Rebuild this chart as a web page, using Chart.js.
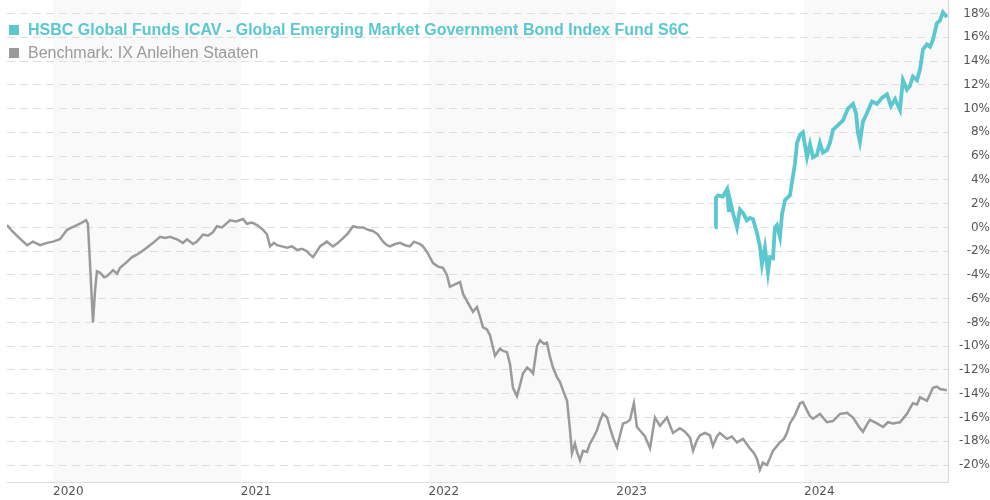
<!DOCTYPE html>
<html>
<head>
<meta charset="utf-8">
<script src="https://cdn.jsdelivr.net/npm/chart.js"></script>
<style>
  html, body { margin: 0; padding: 0; background: #fff; }
  .wrap { position: relative; width: 990px; height: 500px; }
  .legend { position: absolute; left: 9px; font-family: "Liberation Sans", Arial, sans-serif; font-size: 16px; line-height: 18px; white-space: nowrap; }
  .legend .sq { display: inline-block; width: 10px; height: 10px; margin-right: 9px; vertical-align: 0px; }
  .fund { top: 21px; color: #5bc8cf; font-weight: bold; }
  .bench { top: 44px; color: #9a9a9a; }
</style>
</head>
<body>
<div class="wrap">
  <canvas id="chart" width="990" height="500"></canvas>
  <div class="legend fund"><span class="sq" style="background:#5bc8cf"></span>HSBC Global Funds ICAV - Global Emerging Market Government Bond Index Fund S6C</div>
  <div class="legend bench"><span class="sq" style="background:#9a9a9a"></span>Benchmark: IX Anleihen Staaten</div>
</div>
<script>
// time in decimal years, values in %
const benchDates = [2019.755, 2019.782, 2019.814, 2019.862, 2019.893, 2019.931, 2019.968, 2020.000, 2020.037, 2020.075,
  2020.101, 2020.128, 2020.154, 2020.176, 2020.186, 2020.197, 2020.213, 2020.224, 2020.234, 2020.250,
  2020.272, 2020.288, 2020.320, 2020.341, 2020.357, 2020.394, 2020.421, 2020.447, 2020.474, 2020.501,
  2020.533, 2020.570, 2020.597, 2020.623, 2020.660, 2020.692, 2020.714, 2020.746, 2020.767, 2020.799,
  2020.826, 2020.852, 2020.873, 2020.900, 2020.943, 2020.975, 2021.012, 2021.033, 2021.060, 2021.087,
  2021.118, 2021.140, 2021.156, 2021.177, 2021.193, 2021.220, 2021.246, 2021.273, 2021.300, 2021.326,
  2021.353, 2021.369, 2021.385, 2021.406, 2021.422, 2021.459, 2021.491, 2021.518, 2021.545, 2021.571,
  2021.598, 2021.624, 2021.651, 2021.678, 2021.704, 2021.731, 2021.758, 2021.779, 2021.795, 2021.822,
  2021.848, 2021.875, 2021.901, 2021.923, 2021.939, 2021.955, 2021.971, 2021.997, 2022.024, 2022.051,
  2022.077, 2022.098, 2022.114, 2022.141, 2022.168, 2022.184, 2022.205, 2022.237, 2022.258, 2022.274,
  2022.290, 2022.312, 2022.328, 2022.354, 2022.381, 2022.397, 2022.418, 2022.434, 2022.450, 2022.471,
  2022.487, 2022.503, 2022.525, 2022.541, 2022.557, 2022.578, 2022.594, 2022.615, 2022.631, 2022.647,
  2022.663, 2022.684, 2022.700, 2022.716, 2022.738, 2022.754, 2022.764, 2022.780, 2022.791, 2022.807,
  2022.823, 2022.844, 2022.860, 2022.881, 2022.897, 2022.913, 2022.929, 2022.951, 2022.967, 2022.983,
  2023.004, 2023.020, 2023.036, 2023.057, 2023.073, 2023.094, 2023.110, 2023.132, 2023.153, 2023.180,
  2023.206, 2023.233, 2023.270, 2023.302, 2023.339, 2023.366, 2023.393, 2023.409, 2023.430, 2023.446,
  2023.473, 2023.499, 2023.515, 2023.536, 2023.552, 2023.590, 2023.616, 2023.643, 2023.675, 2023.712,
  2023.734, 2023.750, 2023.765, 2023.781, 2023.803, 2023.819, 2023.835, 2023.872, 2023.893, 2023.909,
  2023.925, 2023.952, 2023.979, 2023.994, 2024.016, 2024.032, 2024.048, 2024.085, 2024.122, 2024.154,
  2024.192, 2024.229, 2024.261, 2024.298, 2024.314, 2024.335, 2024.351, 2024.389, 2024.421, 2024.447,
  2024.474, 2024.511, 2024.548, 2024.580, 2024.602, 2024.618, 2024.655, 2024.687, 2024.708, 2024.724,
  2024.761];
const benchValues = [0.2, -0.3, -0.8, -1.5, -1.2, -1.5, -1.3, -1.2, -1.0, -0.2,
  0.0, 0.2, 0.4, 0.6, 0.3, -3.0, -8.0, -5.3, -3.7, -3.8,
  -4.2, -4.1, -3.6, -3.9, -3.4, -2.9, -2.5, -2.3, -2.0, -1.7,
  -1.3, -0.8, -0.9, -0.8, -1.0, -1.3, -1.0, -1.4, -1.2, -0.6,
  -0.7, -0.4, 0.1, 0.0, 0.6, 0.5, 0.7, 0.3, 0.4, 0.2,
  -0.2, -0.6, -1.6, -1.3, -1.5, -1.6, -1.7, -1.6, -1.9, -1.8,
  -2.0, -2.3, -2.5, -2.0, -1.6, -1.2, -1.6, -1.3, -0.9, -0.5,
  0.1, 0.0, 0.0, -0.2, -0.3, -0.6, -1.2, -1.5, -1.6, -1.4,
  -1.3, -1.5, -1.6, -1.2, -1.3, -1.4, -1.6, -2.2, -3.0, -3.3,
  -3.4, -4.0, -5.0, -4.8, -4.6, -5.6, -6.2, -7.1, -6.7, -7.5,
  -8.4, -8.6, -9.1, -10.8, -10.2, -10.4, -10.5, -11.5, -13.5, -14.2,
  -13.3, -12.3, -11.8, -12.0, -12.3, -10.0, -9.5, -9.8, -9.7, -10.9,
  -11.8, -12.6, -13.0, -13.7, -14.6, -17.1, -19.0, -18.2, -18.9, -19.6,
  -18.8, -18.9, -18.2, -17.6, -17.1, -16.3, -15.7, -16.0, -16.9, -17.7,
  -18.5, -17.5, -16.5, -16.4, -16.2, -14.8, -16.8, -17.2, -17.6, -18.6,
  -16.0, -16.7, -16.0, -17.3, -16.9, -17.2, -17.7, -18.8, -17.9, -17.5,
  -17.3, -17.5, -18.4, -17.6, -17.3, -17.8, -17.6, -18.1, -17.8, -18.6,
  -19.0, -19.5, -20.4, -19.8, -20.0, -19.4, -18.8, -18.1, -17.8, -17.3,
  -16.5, -15.8, -14.8, -14.7, -15.4, -15.9, -16.1, -15.7, -16.4, -16.3,
  -15.7, -15.6, -16.0, -16.9, -17.2, -16.6, -16.2, -16.5, -16.8, -16.4,
  -16.5, -16.4, -15.7, -14.8, -14.9, -14.3, -14.6, -13.5, -13.4, -13.6,
  -13.7];

const fundDates = [2023.526, 2023.531, 2023.542, 2023.568, 2023.590, 2023.600, 2023.606, 2023.622, 2023.643, 2023.659,
  2023.675, 2023.696, 2023.712, 2023.728, 2023.750, 2023.765, 2023.776, 2023.792, 2023.808, 2023.819,
  2023.835, 2023.845, 2023.856, 2023.872, 2023.883, 2023.899, 2023.925, 2023.941, 2023.952, 2023.963,
  2023.979, 2023.994, 2024.016, 2024.032, 2024.048, 2024.069, 2024.085, 2024.101, 2024.122, 2024.138,
  2024.154, 2024.181, 2024.208, 2024.234, 2024.261, 2024.277, 2024.287, 2024.298, 2024.314, 2024.335,
  2024.362, 2024.389, 2024.415, 2024.442, 2024.463, 2024.485, 2024.511, 2024.527, 2024.548, 2024.564,
  2024.580, 2024.602, 2024.618, 2024.634, 2024.655, 2024.671, 2024.687, 2024.708, 2024.724, 2024.740,
  2024.761];
const fundValues = [0.0, 2.5, 2.7, 2.6, 3.2, 1.3, 2.3, 1.2, 0.0, 1.5,
  1.2, 0.6, 0.8, 0.7, -0.5, -1.6, -3.1, -1.7, -3.8, -2.5,
  -2.6, 0.0, 0.2, -0.8, 1.1, 2.3, 2.7, 4.3, 5.4, 7.1,
  7.8, 8.0, 5.9, 7.0, 5.9, 6.1, 7.1, 6.3, 6.5, 7.1,
  8.2, 8.6, 9.0, 10.0, 10.4, 9.6, 8.0, 7.2, 8.9, 9.6,
  10.6, 10.4, 10.9, 11.2, 10.2, 10.8, 9.9, 12.4, 11.6, 11.9,
  12.7, 12.4, 13.3, 15.0, 15.4, 15.2, 15.8, 17.2, 17.4, 18.1,
  17.7];

const yearTicks = [2020, 2021, 2022, 2023, 2024];
const shadedYears = [2020, 2022, 2024];
const percentTicks = [-20, -18, -16, -14, -12, -10, -8, -6, -4, -2, 0, 2, 4, 6, 8, 10, 12, 14, 16, 18];

const fundColor = '#5bc8cf';
const benchColor = '#9a9a9a';

const toPoints = (xs, ys) => xs.map((x, i) => ({ x: x, y: ys[i] }));

const noOverhang = axis => {
  axis.paddingTop = 0;
  axis.paddingBottom = 0;
  axis.paddingLeft = 0;
  axis.paddingRight = 0;
};

const yearBands = {
  id: 'yearBands',
  beforeDraw(chart) {
    const { ctx, chartArea, scales } = chart;
    ctx.save();
    ctx.fillStyle = '#f9f9f9';
    shadedYears.forEach(y => {
      const x1 = Math.max(scales.x.getPixelForValue(y), chartArea.left);
      const x2 = Math.min(scales.x.getPixelForValue(y + 1), chartArea.right);
      ctx.fillRect(x1, chartArea.top, x2 - x1, chartArea.bottom - chartArea.top);
    });
    ctx.restore();
  }
};

new Chart(document.getElementById('chart'), {
  type: 'line',
  data: {
    datasets: [
      {
        label: 'Benchmark: IX Anleihen Staaten',
        data: toPoints(benchDates, benchValues),
        borderColor: benchColor,
        borderWidth: 2.5,
        pointRadius: 0,
        tension: 0,
      },
      {
        label: 'HSBC Global Funds ICAV - Global Emerging Market Government Bond Index Fund S6C',
        data: toPoints(fundDates, fundValues),
        borderColor: fundColor,
        borderWidth: 3.8,
        pointRadius: 0,
        tension: 0,
      },
    ],
  },
  options: {
    responsive: false,
    animation: false,
    layout: { padding: { left: 7, top: 0, right: 0, bottom: 0 } },
    plugins: {
      legend: { display: false },
      tooltip: { enabled: false },
    },
    scales: {
      x: {
        type: 'linear',
        min: 2019.755,
        max: 2024.767,
        afterBuildTicks: axis => { axis.ticks = yearTicks.map(v => ({ value: v })); },
        afterFit: axis => { noOverhang(axis); axis.height = 18; },
        grid: { display: false, drawTicks: false },
        border: { display: true, color: '#dddddd', width: 1 },
        ticks: {
          align: 'start',
          padding: 3,
          maxRotation: 0,
          color: '#555',
          font: { family: 'DejaVu Sans', size: 12 },
          callback: v => String(v),
        },
      },
      y: {
        position: 'right',
        min: -21.43,
        max: 19.14,
        afterBuildTicks: axis => { axis.ticks = percentTicks.map(v => ({ value: v })); },
        afterFit: axis => { noOverhang(axis); axis.width = 42; },
        grid: { color: '#dedede', lineWidth: 1, drawTicks: false },
        border: { display: true, color: '#d6d6d6', width: 1, dash: [8, 5] },
        ticks: {
          crossAlign: 'far',
          padding: 10,
          color: '#555',
          font: { family: 'DejaVu Sans', size: 12 },
          callback: v => v + '%',
        },
      },
    },
  },
  plugins: [yearBands],
});
</script>
</body>
</html>
